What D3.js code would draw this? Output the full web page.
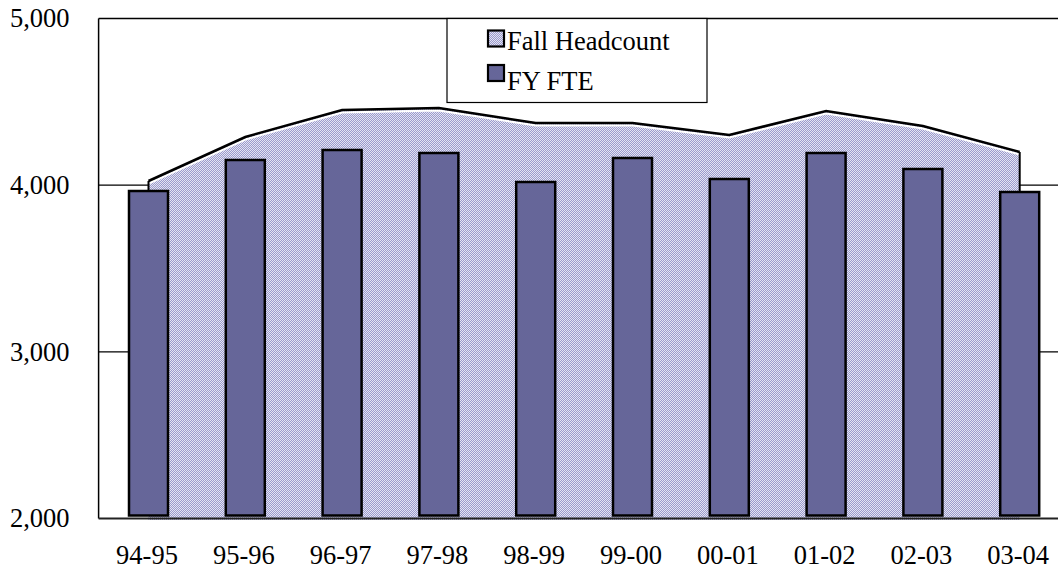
<!DOCTYPE html>
<html lang="en">
<head>
    <title>Fall Headcount and FY FTE</title>
    <meta charset="UTF-8">
    <script src="https://d3js.org/d3.v7.min.js"></script>
    <style>
      body { margin: 0; background: #fff; }
      svg { display: block; }
      svg text { font-family: "Liberation Serif", "DejaVu Serif", serif !important; fill: #000; }
    </style>
</head>
<body>
    <div id="viz">
      <svg width="1058" height="573"></svg>
    </div>

    <script>
      let years = ["94-95", "95-96", "96-97", "97-98", "98-99", "99-00", "00-01", "01-02", "02-03", "03-04"]
      let headcount = [4025, 4289, 4451, 4463, 4373, 4373, 4301, 4445, 4355, 4199]
      let fte = [3965, 4151, 4211, 4193, 4019, 4163, 4037, 4193, 4097, 3959]
      let yTicks = [2000, 3000, 4000, 5000]

      let svg = d3.select("svg")
      let plotLeft = 98.6, plotRight = 1066.6, plotTop = 18.5, plotBottom = 518.5
      let fontSize = 26.5

      let xScale = d3.scaleBand().domain(years).range([plotLeft, plotRight]).paddingInner(0).paddingOuter(0)
      let yScale = d3.scaleLinear().domain([2000, 5000]).range([plotBottom, plotTop])
      let mid = d => xScale(d) + xScale.bandwidth() / 2

      // checker dot fill for the headcount area (lavender + light dots)
      let pat = svg.append("defs").append("pattern")
          .attr("id", "dots").attr("patternUnits", "userSpaceOnUse")
          .attr("width", 2).attr("height", 2)
      pat.append("rect").attr("width", 2).attr("height", 2).attr("fill", "#9a9acd")
          .attr("shape-rendering", "crispEdges")
      pat.append("rect").attr("width", 1).attr("height", 1).attr("fill", "#e4e4f2")
          .attr("shape-rendering", "crispEdges")
      pat.append("rect").attr("x", 1).attr("y", 1).attr("width", 1).attr("height", 1).attr("fill", "#e4e4f2")
          .attr("shape-rendering", "crispEdges")

      // gridlines
      svg.append("g").selectAll("line")
        .data(yTicks.filter(t => t > 2000 && t < 5000)).enter()
        .append("line")
          .attr("x1", plotLeft).attr("x2", plotRight)
          .attr("y1", d => yScale(d)).attr("y2", d => yScale(d))
          .attr("stroke", "#000").attr("stroke-width", 1.2)

      // headcount as area, with a small depth offset
      let pts = years.map((y, i) => [mid(y) + 1.5, yScale(headcount[i])])
      let area = d3.area().x(d => d[0]).y0(plotBottom + 1.5).y1(d => d[1])
      svg.append("path").datum(pts)
          .attr("d", area)
          .attr("fill", "url(#dots)")

      let topLine = d3.line()
      svg.append("path").datum(pts.map(p => [p[0], p[1] + 2.5]))
          .attr("d", topLine).attr("fill", "none")
          .attr("stroke", "#fff").attr("stroke-width", 2)
      svg.append("path").datum(pts)
          .attr("d", topLine).attr("fill", "none")
          .attr("stroke", "#000").attr("stroke-width", 2.5)
      // side edges of the area
      svg.append("line")
          .attr("x1", pts[0][0]).attr("x2", pts[0][0])
          .attr("y1", pts[0][1]).attr("y2", pts[0][1] + 10)
          .attr("stroke", "#000").attr("stroke-width", 2)
      svg.append("line")
          .attr("x1", pts[9][0]).attr("x2", pts[9][0])
          .attr("y1", pts[9][1]).attr("y2", yScale(fte[9]))
          .attr("stroke", "#000").attr("stroke-width", 2)

      // FTE bars
      let barW = 39
      svg.append("g").selectAll("rect")
        .data(fte).enter()
        .append("rect")
          .attr("x", (d, i) => mid(years[i]) + 1.5 - barW / 2)
          .attr("y", d => yScale(d))
          .attr("width", barW)
          .attr("height", d => plotBottom - 3 - yScale(d))
          .attr("fill", "#666699")
          .attr("stroke", "#000").attr("stroke-width", 2.5)

      // plot frame: top, left, bottom axis
      svg.append("line").attr("x1", plotLeft).attr("x2", plotRight).attr("y1", plotTop).attr("y2", plotTop)
          .attr("stroke", "#000").attr("stroke-width", 1.5)
      svg.append("line").attr("x1", plotLeft).attr("x2", plotLeft).attr("y1", plotTop).attr("y2", plotBottom)
          .attr("stroke", "#000").attr("stroke-width", 1.5)
      svg.append("line").attr("x1", plotLeft).attr("x2", plotRight).attr("y1", plotBottom).attr("y2", plotBottom)
          .attr("stroke", "#222").attr("stroke-width", 2)

      // y labels
      let yAxis = d3.axisLeft(yScale).tickValues(yTicks).tickFormat(d3.format(",")).tickSize(0).tickPadding(29)
      let yG = svg.append("g").attr("transform", `translate(${plotLeft},0)`).call(yAxis)
      yG.select(".domain").remove()
      yG.selectAll("text").style("font-size", fontSize + "px")

      // x labels
      let xAxis = d3.axisBottom(xScale).tickSize(0).tickPadding(27)
      let xG = svg.append("g").attr("transform", `translate(0,${plotBottom})`).call(xAxis)
      xG.select(".domain").remove()
      xG.selectAll("text").style("font-size", fontSize + "px")

      // legend
      let lg = svg.append("g")
      lg.append("rect").attr("x", 447).attr("y", 18.5).attr("width", 260).attr("height", 84)
          .attr("fill", "#fff").attr("stroke", "#000").attr("stroke-width", 1.2)
      let items = [{name: "Fall Headcount", fill: "url(#dots)"}, {name: "FY FTE", fill: "#666699"}]
      items.forEach((it, i) => {
        lg.append("rect").attr("x", 488).attr("y", 30.5 + i * 34.5).attr("width", 16).attr("height", 16)
            .attr("fill", it.fill).attr("stroke", "#000").attr("stroke-width", 2.2)
        lg.append("text").attr("x", 507).attr("y", 50 + i * 40)
            .style("font-size", fontSize + "px").text(it.name)
      })
    </script>
</body>
</html>
